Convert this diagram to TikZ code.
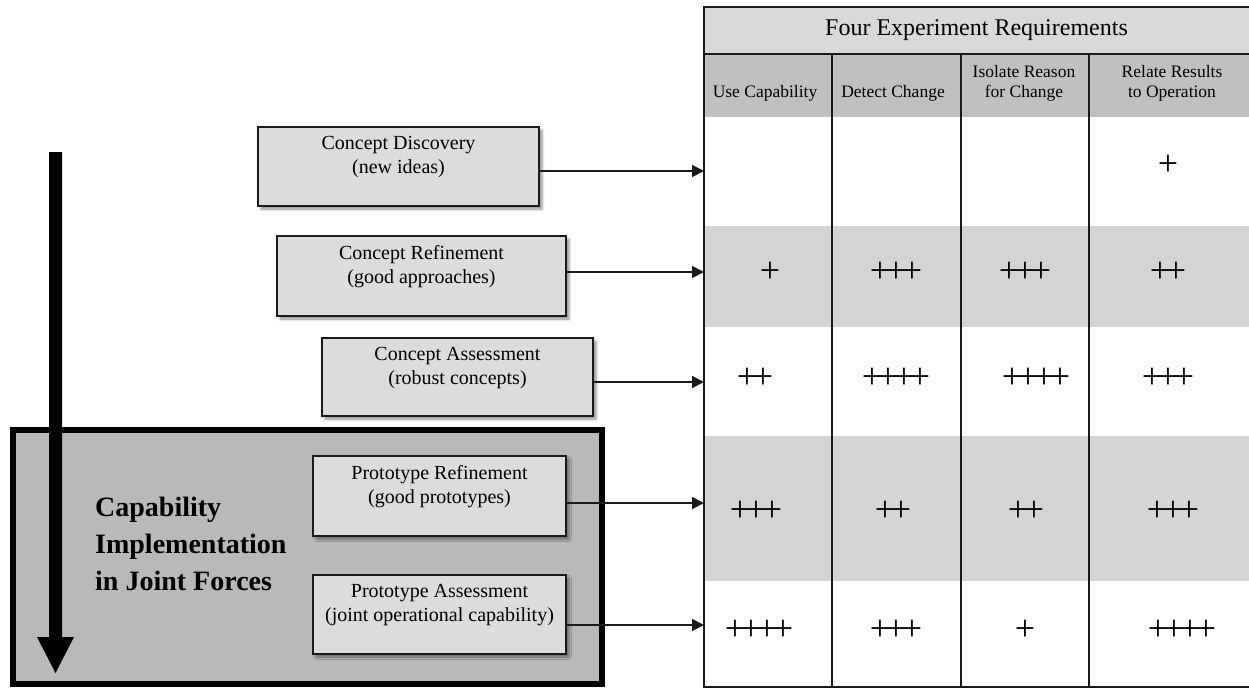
\documentclass[tikz,border=0pt]{standalone}
\usepackage{fontspec}
\setmainfont{Liberation Serif}
\usetikzlibrary{arrows.meta,shadows.blur}

\definecolor{titlegray}{HTML}{D9D9D9}
\definecolor{headgray}{HTML}{C0C0C0}
\definecolor{bandgray}{HTML}{D4D4D4}
\definecolor{boxgray}{HTML}{DCDCDC}
\definecolor{panelgray}{HTML}{B9B9B9}
\definecolor{ink}{HTML}{1A1A1A}

% plus signs set close together so their bars join
\newcommand\plusgap{\kern-4.3pt}
\newcommand\ptwo{+\plusgap+}
\newcommand\pthree{+\plusgap+\plusgap+}
\newcommand\pfour{+\plusgap+\plusgap+\plusgap+}

\begin{document}
\begin{tikzpicture}[x=1pt,y=-1pt,
  stagebox/.style={draw=ink, line width=1.8pt, fill=boxgray, inner sep=0pt,
    blur shadow={shadow xshift=3pt, shadow yshift=-3pt,
                 shadow blur radius=2.5pt, shadow opacity=45}},
  stagetext/.style={anchor=north, inner sep=0pt, align=center, yshift=-10pt,
    font=\fontsize{20}{24}\selectfont},
  feed/.style={draw=ink, line width=1.8pt, -{Triangle[length=12pt,width=12pt]}},
  gridline/.style={draw=ink, line width=2.4pt},
  colhead/.style={anchor=south, inner sep=0pt, align=center,
    font=\fontsize{17.5}{20}\selectfont},
  score/.style={inner sep=0pt, font=\fontsize{36}{38}\selectfont},
]
\useasboundingbox (0,0) rectangle (1249,689);

% ---------- requirements table ----------
\fill[titlegray] (704,7) rectangle (1249,54);
\fill[headgray]  (704,54) rectangle (1249,117);
\fill[bandgray]  (704,226) rectangle (1249,327);
\fill[bandgray]  (704,436) rectangle (1249,581);

\draw[gridline] (1249,7) -- (704,7) -- (704,687) -- (1249,687);
\draw[gridline] (704,54) -- (1249,54);
\foreach \x in {832,961,1089} \draw[gridline] (\x,54) -- (\x,687);

\node[inner sep=0pt, font=\fontsize{24}{28}\selectfont] (title) at (976.5,30)
  {Four Experiment Requirements};
\node[colhead] (h1) at (765,101) {Use Capability};
\node[colhead] (h2) at (893,101) {Detect Change};
\node[colhead] (h3) at (1024,101) {Isolate Reason\\for Change};
\node[colhead] (h4) at (1172,101) {Relate Results\\to Operation};

% scores
\node[score] (s14) at (1168,165) {+};

\node[score] (s21) at (770,272) {+};
\node[score] (s22) at (896,272) {\pthree};
\node[score] (s23) at (1025,272) {\pthree};
\node[score] (s24) at (1168,272) {\ptwo};

\node[score] (s31) at (755,378) {\ptwo};
\node[score] (s32) at (896,378) {\pfour};
\node[score] (s33) at (1036,378) {\pfour};
\node[score] (s34) at (1168,378) {\pthree};

\node[score] (s41) at (756,511) {\pthree};
\node[score] (s42) at (893,511) {\ptwo};
\node[score] (s43) at (1026,511) {\ptwo};
\node[score] (s44) at (1173,511) {\pthree};

\node[score] (s51) at (759,630) {\pfour};
\node[score] (s52) at (896,630) {\pthree};
\node[score] (s53) at (1025,630) {+};
\node[score] (s54) at (1182,630) {\pfour};

% entry points on the table's left edge
\coordinate (in1) at (704,171);
\coordinate (in2) at (704,272);
\coordinate (in3) at (704,382);
\coordinate (in4) at (704,503);
\coordinate (in5) at (704,625);

% ---------- joint forces panel ----------
\node[draw=black, line width=6pt, fill=panelgray, inner sep=0pt,
      minimum width=589pt, minimum height=254pt] (panel) at (307.5,557) {};
\node[anchor=north west, inner sep=0pt, align=left,
      font=\bfseries\fontsize{28}{37}\selectfont] (impl) at (95,497)
  {Capability\\Implementation\\in Joint Forces};

% progression arrow
\fill[black] (49,152) -- (62,152) -- (62,637) -- (74,637) -- (55.5,673)
  -- (37,637) -- (49,637) -- cycle;

% ---------- experiment stages ----------
\node[stagebox, minimum width=281pt, minimum height=79pt] (cd) at (398.5,166.5) {};
\node[stagetext] (cdt) at (cd.north) {Concept Discovery\\(new ideas)};

\node[stagebox, minimum width=289pt, minimum height=80pt] (cr) at (421.5,276) {};
\node[stagetext] (crt) at (cr.north) {Concept Refinement\\(good approaches)};

\node[stagebox, minimum width=271pt, minimum height=78pt] (ca) at (457.5,377) {};
\node[stagetext] (cat) at (ca.north) {Concept Assessment\\(robust concepts)};

\node[stagebox, minimum width=253pt, minimum height=80pt] (pr) at (439.5,496) {};
\node[stagetext] (prt) at (pr.north) {Prototype Refinement\\(good prototypes)};

\node[stagebox, minimum width=253pt, minimum height=79pt] (pa) at (439.5,614.5) {};
\node[stagetext] (pat) at (pa.north) {Prototype Assessment\\(joint operational capability)};

% feeds into the table
\draw[feed] (cd.east |- in1) -- (in1);
\draw[feed] (cr.east |- in2) -- (in2);
\draw[feed] (ca.east |- in3) -- (in3);
\draw[feed] (pr.east |- in4) -- (in4);
\draw[feed] (pa.east |- in5) -- (in5);

\end{tikzpicture}
\end{document}
